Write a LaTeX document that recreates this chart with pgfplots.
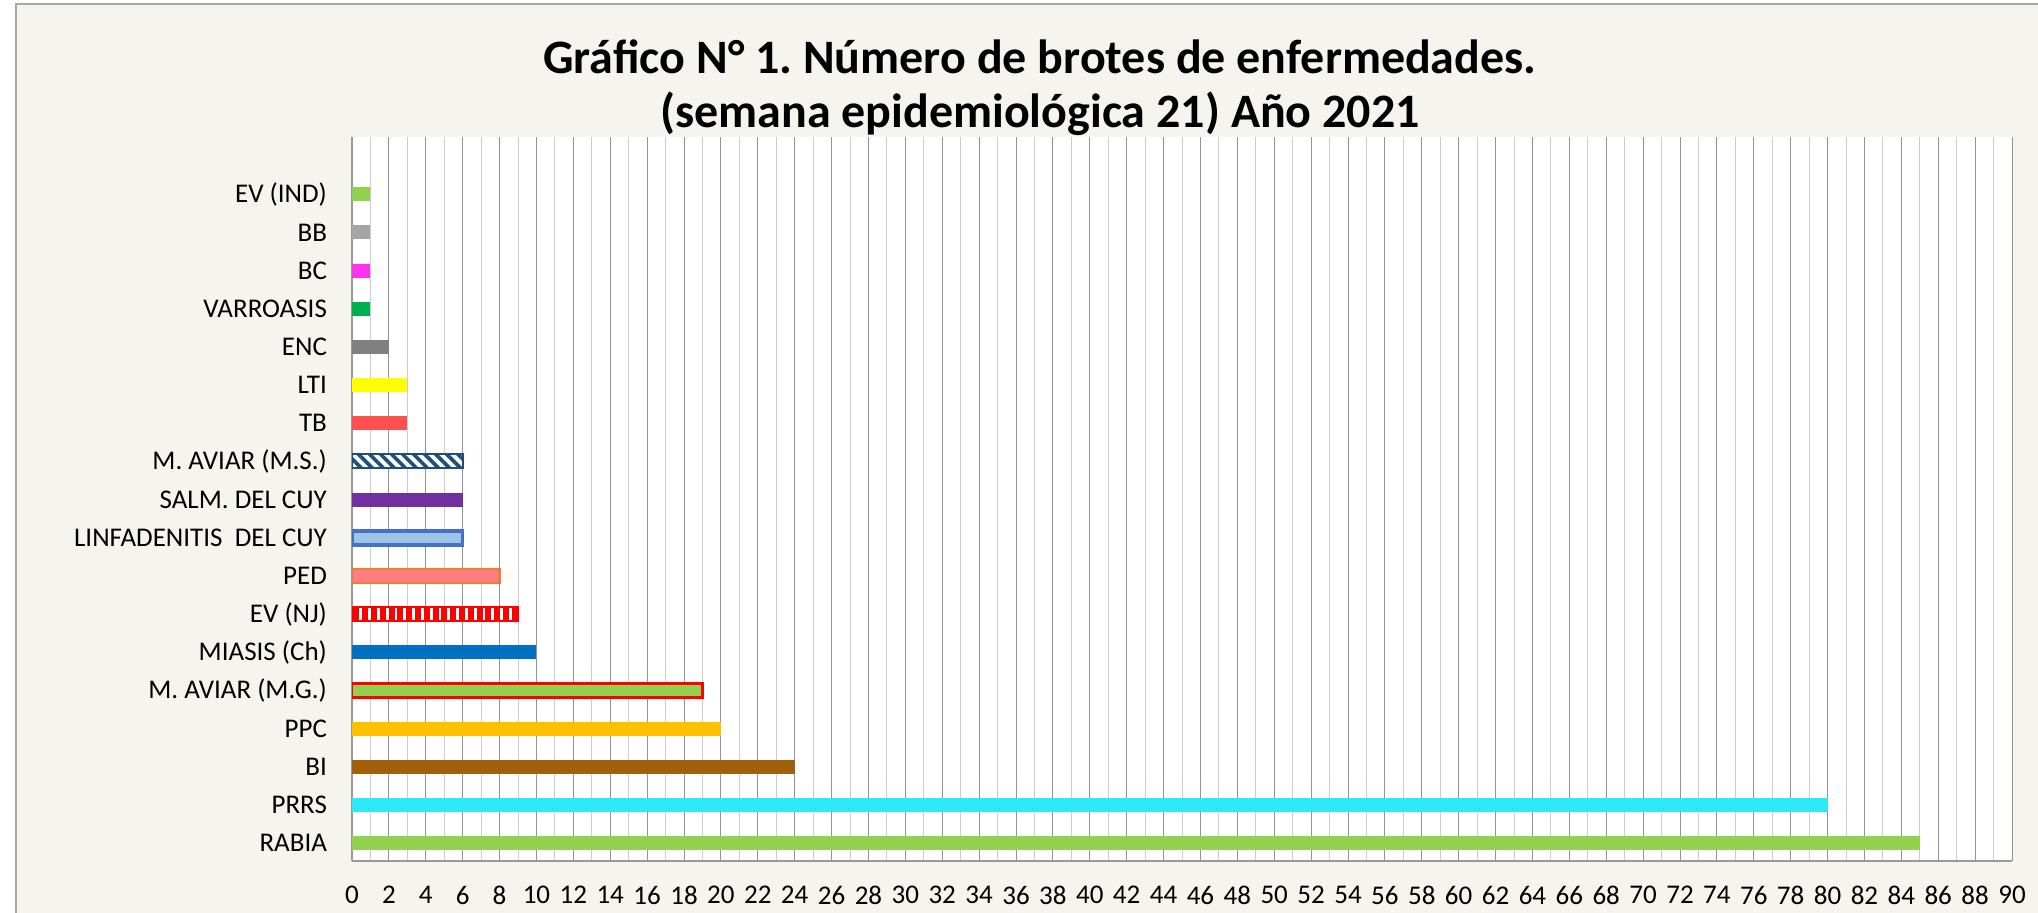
\documentclass[border=0pt]{standalone}
\usepackage{fontspec}
\setmainfont{Carlito}
\usepackage{pgfplots}
\pgfplotsset{compat=1.18}
\usetikzlibrary{patterns.meta}
\frenchspacing
\definecolor{bgc}{HTML}{F5F4EE}
\definecolor{cgreen}{HTML}{92D050}
\definecolor{cgray}{HTML}{A5A5A5}
\definecolor{cmag}{HTML}{FF33EE}
\definecolor{cvar}{HTML}{00B050}
\definecolor{cenc}{HTML}{808080}
\definecolor{cyel}{HTML}{FFFF00}
\definecolor{ctb}{HTML}{FF5050}
\definecolor{cms}{HTML}{1F4E79}
\definecolor{csalm}{HTML}{7030A0}
\definecolor{clinf}{HTML}{9DC3E6}
\definecolor{clinfb}{HTML}{4472C4}
\definecolor{cped}{HTML}{FF7C80}
\definecolor{cpedb}{HTML}{ED7D31}
\definecolor{cred}{HTML}{FF0000}
\definecolor{cmia}{HTML}{0070C0}
\definecolor{cppc}{HTML}{FFC000}
\definecolor{cbi}{HTML}{A0600C}
\definecolor{cprrs}{HTML}{2EE8F5}
\begin{document}
\begin{tikzpicture}
\useasboundingbox (0pt,0pt) rectangle (1019pt,456pt);
\clip (0pt,0pt) rectangle (1019pt,456pt);
\fill[white] (0pt,0pt) rectangle (1019pt,456pt);
\draw[fill=bgc, draw=gray!70, line width=1pt] (8pt,-5pt) rectangle (1030pt,454pt);
\node[anchor=base, font=\bfseries\fontsize{24}{28}\selectfont, inner sep=0pt] at (520pt,419pt) {Gráfico N° 1. Número de brotes de enfermedades.};
\node[anchor=base, font=\bfseries\fontsize{24}{28}\selectfont, inner sep=0pt] at (520pt,392pt) {(semana epidemiológica 21) Año 2021};
\begin{axis}[
  at={(176pt,25.5pt)}, anchor=south west,
  scale only axis, width=830pt, height=362pt,
  xmin=0, xmax=90, ymin=-0.47, ymax=18.5,
  xtick={0,2,...,90}, minor x tick num=1,
  ytick={0,...,17},
  yticklabels={RABIA, PRRS, BI, PPC, {M. AVIAR (M.G.)}, {MIASIS (Ch)}, {EV (NJ)}, PED, {LINFADENITIS\ \ DEL CUY}, {SALM. DEL CUY}, {M. AVIAR (M.S.)}, TB, LTI, ENC, VARROASIS, BC, BB, {EV (IND)}},
  xmajorgrids, xminorgrids,
  major grid style={draw=gray!85, line width=0.5pt},
  minor grid style={draw=gray!40, line width=0.5pt},
  axis x line*=bottom, axis y line*=left,
  axis line style={-, draw=gray!80, line width=0.8pt},
  major tick length=0pt, minor tick length=0pt,
  axis background/.style={fill=white},
  tick label style={font=\fontsize{13.5}{16}\selectfont},
  /pgf/number format/assume math mode=true,
  xticklabel style={yshift=-9pt},
  yticklabel style={xshift=-9pt},
  xbar, bar width=7pt, bar shift=0pt,
]
\addplot[fill=cgreen, draw=none] coordinates {(85,0)};
\addplot[fill=cprrs, draw=none] coordinates {(80,1)};
\addplot[fill=cbi, draw=none] coordinates {(24,2)};
\addplot[fill=cppc, draw=none] coordinates {(20,3)};
\addplot[fill=cgreen, draw=cred, line width=1.3pt] coordinates {(19,4)};
\addplot[fill=cmia, draw=none] coordinates {(10,5)};
\addplot[fill=cred, draw=cred, line width=1pt, postaction={pattern={Lines[angle=90, distance=4.4pt, line width=1.4pt]}, pattern color=white}] coordinates {(9,6)};
\addplot[fill=cped, draw=cpedb, line width=1.2pt] coordinates {(8,7)};
\addplot[fill=clinf, draw=clinfb, line width=1.8pt] coordinates {(6,8)};
\addplot[fill=csalm, draw=none] coordinates {(6,9)};
\addplot[fill=white, draw=cms, line width=1pt, postaction={pattern={Lines[angle=-45, distance=3.9pt, line width=1.8pt]}, pattern color=cms}] coordinates {(6,10)};
\addplot[fill=ctb, draw=none] coordinates {(3,11)};
\addplot[fill=cyel, draw=none] coordinates {(3,12)};
\addplot[fill=cenc, draw=none] coordinates {(2,13)};
\addplot[fill=cvar, draw=none] coordinates {(1,14)};
\addplot[fill=cmag, draw=none] coordinates {(1,15)};
\addplot[fill=cgray, draw=none] coordinates {(1,16)};
\addplot[fill=cgreen, draw=none] coordinates {(1,17)};
\end{axis}
\end{tikzpicture}
\end{document}
